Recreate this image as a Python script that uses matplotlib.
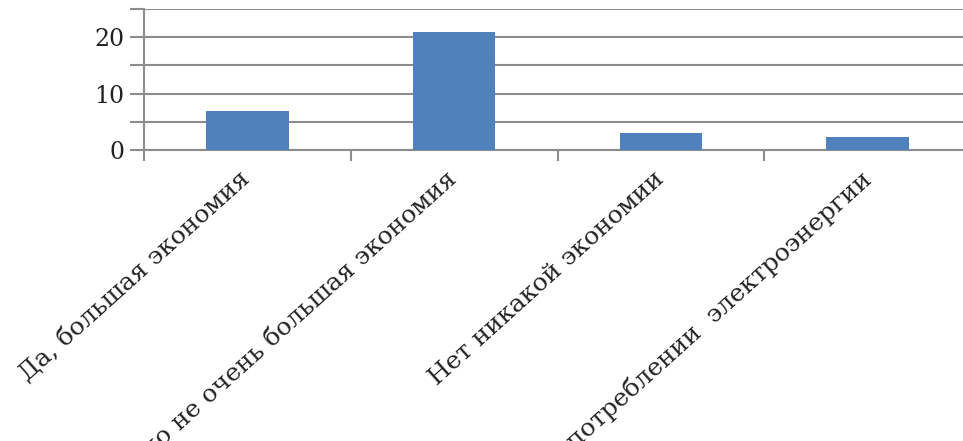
import numpy as np
import matplotlib.pyplot as plt

categories = ['Да, большая экономия',
              'Да, но не очень большая экономия',
              'Нет никакой экономии',
              'Не заметил изменений в потреблении  электроэнергии']
values = [7, 21, 3, 2.3]
yticks = [0, 5, 10, 15, 20, 25]
ylabels = ['0', '', '10', '', '20', '']

plt.rcParams['font.family'] = ['DejaVu Serif']

fig = plt.figure(figsize=(9.63, 4.41), dpi=100)
ax = fig.add_axes([144 / 963, 291 / 441, 827 / 963, 141 / 441])

x = np.arange(len(categories)) + 0.5
ax.bar(x, values, width=0.4, color='#4f81bd', zorder=3)

ax.set_xlim(0, 4)
ax.set_ylim(0, 25)
ax.set_yticks(yticks)
ax.set_yticklabels(ylabels, fontsize=17, color='#222222')
ax.grid(axis='y', color='#8c8c8c', linewidth=1.5, zorder=0)
ax.tick_params(axis='y', length=10, width=1.5, color='#8c8c8c', pad=4)

# category boundaries carry the ticks, labels sit under the bars
ax.set_xticks(np.arange(0, 5))
ax.set_xticklabels([])
ax.tick_params(axis='x', length=8, width=1.5, color='#8c8c8c')
for xi, lab in zip(x, categories):
    ax.annotate(lab, xy=(xi, 0), xycoords=('data', 'axes fraction'),
                xytext=(-8, -17), textcoords='offset pixels',
                rotation=42, ha='right', va='top', rotation_mode='anchor',
                fontsize=18, color='#222222', annotation_clip=False)

for s in ['top', 'right']:
    ax.spines[s].set_visible(False)
ax.spines['left'].set_color('#8c8c8c')
ax.spines['left'].set_linewidth(1.5)
ax.spines['bottom'].set_color('#8c8c8c')
ax.spines['bottom'].set_linewidth(1.5)

fig.savefig('out.png', dpi=100)
